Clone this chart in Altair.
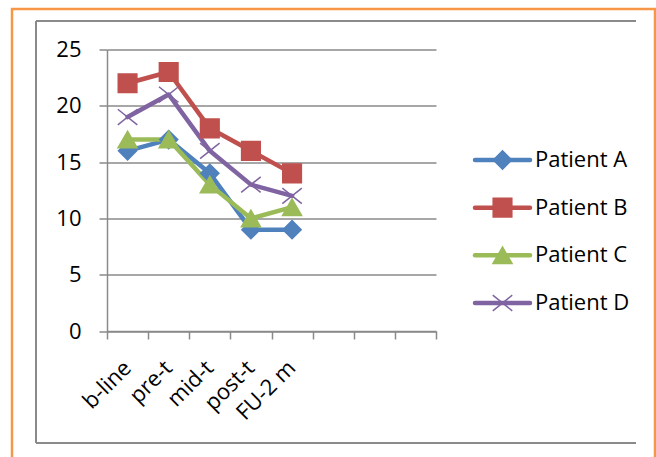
import json
import altair as alt
import pandas as pd

# ---- data ----
categories = ["b-line", "pre-t", "mid-t", "post-t", "FU-2 m"]
n_slots = 8
series = ["Patient A", "Patient B", "Patient C", "Patient D"]
patient_a = [16, 17, 14, 9, 9]
patient_b = [22, 23, 18, 16, 14]
patient_c = [17, 17, 13, 10, 11]
patient_d = [19, 21, 16, 13, 12]
y_ticks = [0, 5, 10, 15, 20, 25]

colors = ["#4F81BD", "#C0504D", "#9BBB59", "#8064A2"]
shapes = ["diamond", "square", "triangle-up", "M-1,-0.8L1,0.8M-1,0.8L1,-0.8"]
sizes = [330, 380, 430, 380]

rows = []
for name, vals in zip(series, [patient_a, patient_b, patient_c, patient_d]):
    for i, (c, v) in enumerate(zip(categories, vals)):
        rows.append({"series": name, "category": c, "slot": i + 0.5, "value": v})
df = pd.DataFrame(rows)
leg_df = pd.DataFrame({"series": series, "rank": list(range(len(series)))})
one = pd.DataFrame({"k": [0]})

FONT = "Open Sans"
GRAY = "#8a8a8a"

color_scale = alt.Scale(domain=series, range=colors)
shape_scale = alt.Scale(domain=series, range=shapes)
size_scale = alt.Scale(domain=series, range=sizes)

label_expr = "(" + json.dumps(categories) + ")[datum.value] || ''"

x_enc = alt.X(
    "slot:Q",
    scale=alt.Scale(domain=[0, n_slots], nice=False, zero=False),
    axis=alt.Axis(
        values=list(range(n_slots + 1)),
        labelExpr=label_expr,
        title=None,
        grid=False,
        tickSize=8,
        tickColor=GRAY,
        tickWidth=1.5,
        domainColor=GRAY,
        domainWidth=1.5,
        labelAngle=315,
        labelAlign="right",
        labelBaseline="middle",
        labelOffset=20,
        labelPadding=25,
        labelOverlap=False,
        labelFlush=False,
        labelFont=FONT,
        labelFontSize=22,
        labelColor="#000000",
    ),
)
y_enc = alt.Y(
    "value:Q",
    scale=alt.Scale(domain=[0, 25], nice=False),
    axis=alt.Axis(
        values=y_ticks,
        title=None,
        tickSize=8,
        tickColor=GRAY,
        tickWidth=1.5,
        gridColor=GRAY,
        gridWidth=1.5,
        domainColor=GRAY,
        domainWidth=1.5,
        labelPadding=18,
        labelFont=FONT,
        labelFontSize=22,
        labelColor="#000000",
    ),
)

lines = alt.Chart(df).mark_line(strokeWidth=4.5, strokeJoin="round", strokeCap="round").encode(
    x=x_enc,
    y=y_enc,
    color=alt.Color("series:N", scale=color_scale, legend=None),
    detail="series:N",
)
points = alt.Chart(df).mark_point(filled=True, opacity=1, strokeWidth=1.5).encode(
    x=x_enc,
    y=y_enc,
    color=alt.Color("series:N", scale=color_scale, legend=None),
    stroke=alt.Stroke("series:N", scale=color_scale, legend=None),
    shape=alt.Shape("series:N", scale=shape_scale, legend=None),
    size=alt.Size("series:N", scale=size_scale, legend=None),
)
plot = alt.layer(lines, points)

# ---- legend (drawn as marks, own linear y scale over entry rank) ----
leg_y = alt.Y(
    "rank:Q",
    scale=alt.Scale(domain=[0, len(series) - 1], range=[110.5, 253.5], nice=False, zero=False),
    axis=None,
)
leg_rule = alt.Chart(leg_df).mark_rule(strokeWidth=4.5, strokeCap="round").encode(
    x=alt.value(368), x2=alt.value(423), y=leg_y,
    color=alt.Color("series:N", scale=color_scale, legend=None),
)
leg_pts = alt.Chart(leg_df).mark_point(filled=True, opacity=1, strokeWidth=1.5).encode(
    x=alt.value(395.5), y=leg_y,
    color=alt.Color("series:N", scale=color_scale, legend=None),
    stroke=alt.Stroke("series:N", scale=color_scale, legend=None),
    shape=alt.Shape("series:N", scale=shape_scale, legend=None),
    size=alt.Size("series:N", scale=size_scale, legend=None),
)
leg_text = alt.Chart(leg_df).mark_text(
    align="left", baseline="middle", font=FONT, fontSize=22, color="#000000"
).encode(x=alt.value(428), y=leg_y, text="series:N")
legend = alt.layer(leg_rule, leg_pts, leg_text)

# ---- frames ----
orange = alt.Chart(one).mark_rect(fillOpacity=0, stroke="#F79646", strokeWidth=2.5).encode(
    x=alt.value(-95), x2=alt.value(548), y=alt.value(-40.5), y2=alt.value(430)
)
g_top = alt.Chart(one).mark_rule(color=GRAY, strokeWidth=2).encode(
    x=alt.value(-71), x2=alt.value(529), y=alt.value(-28.5)
)
g_left = alt.Chart(one).mark_rule(color=GRAY, strokeWidth=2).encode(
    x=alt.value(-71), y=alt.value(-28.5), y2=alt.value(393.5)
)
g_bot = alt.Chart(one).mark_rule(color=GRAY, strokeWidth=2).encode(
    x=alt.value(-71), x2=alt.value(529), y=alt.value(393.5)
)

chart = (
    alt.layer(orange, g_top, g_left, g_bot, plot, legend)
    .resolve_scale(y="independent")
    .properties(
        width=329,
        height=281.5,
        padding={"left": 107, "top": 49.5, "right": 220, "bottom": 126},
        autosize="none",
        background="#ffffff",
    )
    .configure_view(stroke=None)
)

chart.save("out.html", embed_options={"renderer": "svg", "actions": False})
